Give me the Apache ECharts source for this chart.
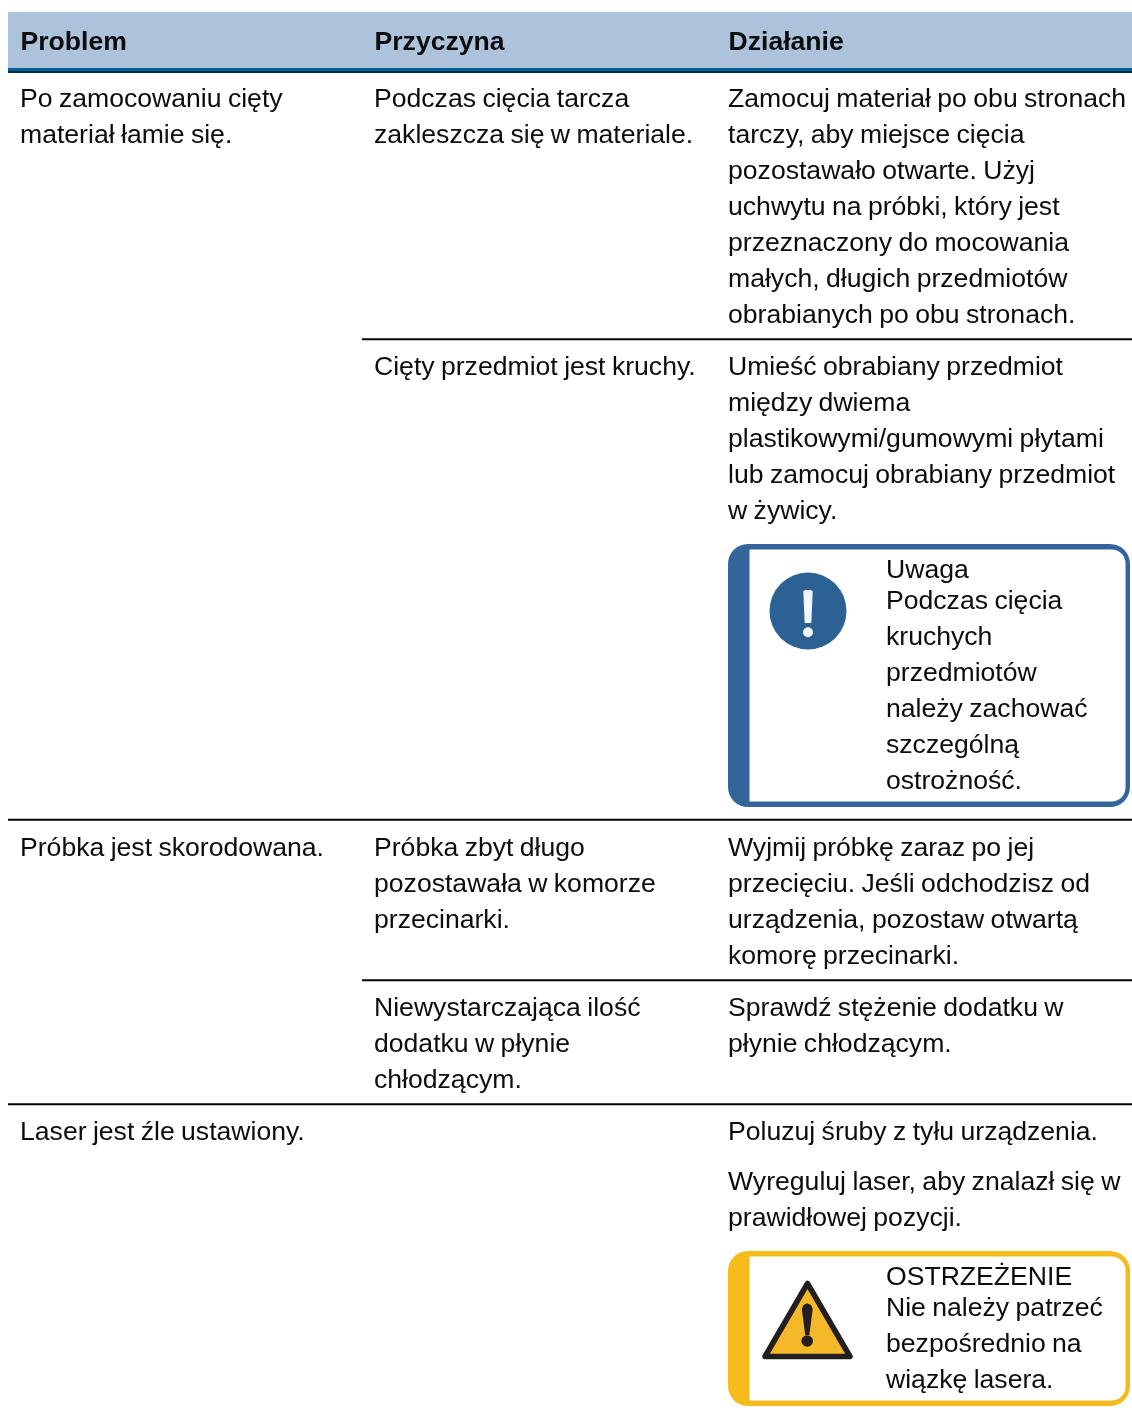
<!DOCTYPE html>
<html>
<head>
<meta charset="utf-8">
<style>html,body{margin:0;padding:0;background:#fff}#c{width:1132px;height:1412px}</style>
<script src="https://cdn.jsdelivr.net/npm/echarts@6/dist/echarts.min.js"></script>
</head>
<body>
<div id="c"></div>
<script>
const headers = ['Problem', 'Przyczyna', 'Działanie'];
const problem1 = ['Po zamocowaniu cięty', 'materiał łamie się.'];
const problem2 = ['Próbka jest skorodowana.'];
const problem3 = ['Laser jest źle ustawiony.'];
const cause1a = ['Podczas cięcia tarcza', 'zakleszcza się w materiale.'];
const cause1b = ['Cięty przedmiot jest kruchy.'];
const cause2a = ['Próbka zbyt długo', 'pozostawała w komorze', 'przecinarki.'];
const cause2b = ['Niewystarczająca ilość', 'dodatku w płynie', 'chłodzącym.'];
const action1a = ['Zamocuj materiał po obu stronach', 'tarczy, aby miejsce cięcia', 'pozostawało otwarte. Użyj', 'uchwytu na próbki, który jest', 'przeznaczony do mocowania', 'małych, długich przedmiotów', 'obrabianych po obu stronach.'];
const action1b = ['Umieść obrabiany przedmiot', 'między dwiema', 'plastikowymi/gumowymi płytami', 'lub zamocuj obrabiany przedmiot', 'w żywicy.'];
const action2a = ['Wyjmij próbkę zaraz po jej', 'przecięciu. Jeśli odchodzisz od', 'urządzenia, pozostaw otwartą', 'komorę przecinarki.'];
const action2b = ['Sprawdź stężenie dodatku w', 'płynie chłodzącym.'];
const action3a = ['Poluzuj śruby z tyłu urządzenia.'];
const action3b = ['Wyreguluj laser, aby znalazł się w', 'prawidłowej pozycji.'];
const noteTitle = 'Uwaga';
const noteBody = ['Podczas cięcia', 'kruchych', 'przedmiotów', 'należy zachować', 'szczególną', 'ostrożność.'];
const warnTitle = 'OSTRZEŻENIE';
const warnBody = ['Nie należy patrzeć', 'bezpośrednio na', 'wiązkę lasera.'];

// The reference sets its word gaps about a pixel tighter than the canvas default.
const nativeFillText = CanvasRenderingContext2D.prototype.fillText;
CanvasRenderingContext2D.prototype.fillText = function (s, x, y, m) {
  this.wordSpacing = '-1px';
  return m === undefined ? nativeFillText.call(this, s, x, y) : nativeFillText.call(this, s, x, y, m);
};

const FONT = '"Liberation Sans", Arial, sans-serif';
const SIZE = 26.6;
const LH = 36;
const X1 = 20, X2 = 374, X3 = 728, XN = 886;
const els = [];

function text(str, x, y, bold) {
  els.push({type: 'text', x: x, y: y + 2, silent: true, z: 10, style: {
    text: str, x: 0, y: 0, fill: '#0c0c0c', textVerticalAlign: 'middle', textAlign: 'left',
    font: (bold ? 'bold ' : '') + SIZE + 'px ' + FONT
  }});
}
function block(lines, x, y) { lines.forEach((l, i) => text(l, x, y + i * LH)); }
function rect(x, y, w, h, fill, r) {
  els.push({type: 'rect', silent: true, z: 2, shape: {x: x, y: y, width: w, height: h, r: r || 0}, style: {fill: fill}});
}
function rule(x, y) { rect(x, y, 1132 - x, 2, '#050505'); }

// Header band
rect(8, 12, 1124, 56, '#adc2db');
rect(8, 68, 1124, 3, '#00629b');
rect(8, 71, 1124, 2, '#002f4a');
headers.forEach((h, i) => text(h, [X1 + 0.5, X2 + 0.5, X3 + 0.5][i], 41, true));

// Row rules
rule(362, 338.2); rule(8, 818.8); rule(362, 979.2); rule(8, 1103.2);

// Cells
block(problem1, X1, 98);
block(cause1a, X2, 98);
block(action1a, X3, 98);
block(cause1b, X2, 366);
block(action1b, X3, 366);
block(problem2, X1, 847);
block(cause2a, X2, 847);
block(action2a, X3, 847);
block(cause2b, X2, 1007);
block(action2b, X3, 1007);
block(problem3, X1, 1131);
block(action3a, X3, 1131);
block(action3b, X3, 1181);

// Callouts
function callout(y0, y1, color) {
  rect(728, y0, 402, y1 - y0, color, 20);
  rect(749.5, y0 + 5.5, 376, y1 - y0 - 11, '#ffffff', [0, 14, 14, 0]);
}
callout(544, 807, '#34659a');
callout(1251, 1406, '#f5bb1c');

// Note icon
els.push({type: 'circle', silent: true, z: 3, shape: {cx: 808, cy: 611, r: 38.5}, style: {fill: '#2c6293'}});
els.push({type: 'polygon', silent: true, z: 4, shape: {points: [[803.3, 591.5], [805, 590], [811, 590], [812.7, 591.5], [811.3, 623], [804.7, 623]]}, style: {fill: '#f4f7f9'}});
els.push({type: 'circle', silent: true, z: 4, shape: {cx: 808, cy: 632.3, r: 5}, style: {fill: '#f4f7f9'}});
text(noteTitle, XN, 569);
block(noteBody, XN, 600);

// Warning icon
els.push({type: 'polygon', silent: true, z: 3, shape: {points: [[807.5, 1283.5], [850, 1356.5], [765, 1356.5]]}, style: {fill: '#f5b82a', stroke: '#231f20', lineWidth: 5.5, lineJoin: 'round'}});
els.push({type: 'polygon', silent: true, z: 4, shape: {points: [[801.8, 1309], [803.5, 1305], [807.2, 1303.2], [811, 1305], [812.7, 1309], [809.3, 1335], [805.2, 1335]]}, style: {fill: '#231f20'}});
els.push({type: 'circle', silent: true, z: 4, shape: {cx: 807.2, cy: 1341, r: 5.8}, style: {fill: '#231f20'}});
text(warnTitle, XN, 1276);
block(warnBody, XN, 1307);

const chart = echarts.init(document.getElementById('c'), null, {renderer: 'canvas', width: 1132, height: 1412});
chart.setOption({animation: false, backgroundColor: '#ffffff', graphic: {elements: els}});
</script>
</body>
</html>
